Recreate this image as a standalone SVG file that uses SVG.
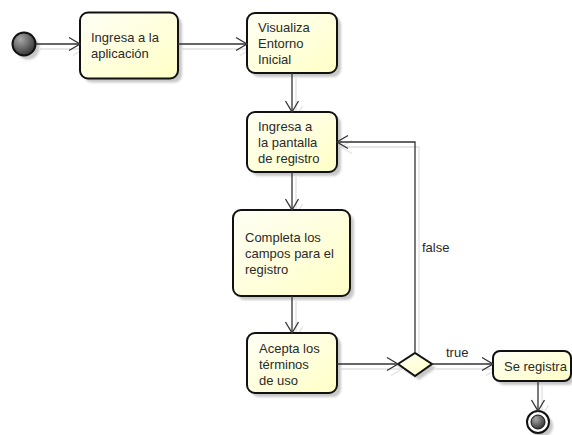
<svg xmlns="http://www.w3.org/2000/svg" width="572" height="435" viewBox="0 0 572 435">
  <defs>
    <linearGradient id="actFill" x1="0" y1="0" x2="1" y2="1">
      <stop offset="0" stop-color="#fffff6"/>
      <stop offset="1" stop-color="#ffffc6"/>
    </linearGradient>
    <radialGradient id="dotFill" cx="0.35" cy="0.3" r="0.8">
      <stop offset="0" stop-color="#a8a8a8"/>
      <stop offset="1" stop-color="#2a2a2a"/>
    </radialGradient>
    <filter id="soft" x="-20%" y="-20%" width="140%" height="140%">
      <feGaussianBlur stdDeviation="1.2"/>
    </filter>
    <marker id="arrow" markerUnits="userSpaceOnUse" markerWidth="14" markerHeight="16" viewBox="0 0 14 16" refX="12" refY="8" orient="auto">
      <path d="M1,1.5 L12,8 L1,14.5" fill="none" stroke="#333" stroke-width="1.3"/>
    </marker>
    <marker id="arrowShadow" markerUnits="userSpaceOnUse" markerWidth="14" markerHeight="16" viewBox="0 0 14 16" refX="12" refY="8" orient="auto">
      <path d="M1,1.5 L12,8 L1,14.5" fill="none" stroke="#e2e2e2" stroke-width="1.3"/>
    </marker>
  </defs>
  <style>
    .act { fill: url(#actFill); stroke: #111; stroke-width: 2; }
    .shade { fill: #c8c8c8; filter: url(#soft); }
    .flow { fill: none; stroke: #333; stroke-width: 1.3; marker-end: url(#arrow); }
    .flowShade { fill: none; stroke: #e0e0e0; stroke-width: 1.3; marker-end: url(#arrowShadow); }
    text { font-family: "Liberation Sans", Arial, sans-serif; font-size: 13px; fill: #2a2a2a; }
  </style>

  <!-- connector shadows -->
  <g id="connector-shadows" transform="translate(4,5)">
    <path class="flowShade" d="M36,44 H80"/>
    <path class="flowShade" d="M178,44 H247"/>
    <path class="flowShade" d="M292,73 V112"/>
    <path class="flowShade" d="M292,172 V210"/>
    <path class="flowShade" d="M292,296 V333"/>
    <path class="flowShade" d="M337,364 H398"/>
    <path class="flowShade" d="M415,353 V142 H337"/>
    <path class="flowShade" d="M432,364 H493"/>
    <path class="flowShade" d="M538,381 V411"/>
  </g>

  <!-- initial node -->
  <g id="start">
    <circle class="shade" cx="28" cy="48" r="11.5"/>
    <circle cx="24" cy="44" r="11.5" fill="url(#dotFill)" stroke="#111" stroke-width="2"/>
  </g>

  <g id="ingresa-app">
    <rect class="shade" x="84" y="16.5" width="98" height="66" rx="8"/>
    <rect class="act" x="80" y="12.5" width="98" height="66" rx="8"/>
    <text x="91" y="42">Ingresa a la</text>
    <text x="91" y="58">aplicación</text>
  </g>

  <g id="visualiza">
    <rect class="shade" x="251" y="17" width="90" height="60" rx="8"/>
    <rect class="act" x="247" y="13" width="90" height="60" rx="8"/>
    <text x="258" y="32">Visualiza</text>
    <text x="258" y="48">Entorno</text>
    <text x="258" y="64">Inicial</text>
  </g>

  <g id="pantalla-registro">
    <rect class="shade" x="251" y="116" width="90" height="60" rx="8"/>
    <rect class="act" x="247" y="112" width="90" height="60" rx="8"/>
    <text x="258" y="131">Ingresa a</text>
    <text x="258" y="147">la pantalla</text>
    <text x="258" y="163">de registro</text>
  </g>

  <g id="completa-campos">
    <rect class="shade" x="237" y="214" width="117" height="86" rx="8"/>
    <rect class="act" x="233" y="210" width="117" height="86" rx="8"/>
    <text x="245" y="242">Completa los</text>
    <text x="245" y="258">campos para el</text>
    <text x="245" y="274">registro</text>
  </g>

  <g id="acepta-terminos">
    <rect class="shade" x="251" y="337" width="90" height="60" rx="8"/>
    <rect class="act" x="247" y="333" width="90" height="60" rx="8"/>
    <text x="259" y="353">Acepta los</text>
    <text x="259" y="369">términos</text>
    <text x="259" y="385">de uso</text>
  </g>

  <g id="decision">
    <polygon class="shade" points="402,368 419,357 436,368 419,380"/>
    <polygon points="398,364 415,353 432,364 415,376" fill="url(#actFill)" stroke="#111" stroke-width="2"/>
  </g>

  <g id="se-registra">
    <rect class="shade" x="497" y="355" width="78" height="30" rx="7"/>
    <rect class="act" x="493" y="351" width="78" height="30" rx="7"/>
    <text x="504" y="371">Se registra</text>
  </g>

  <!-- final node -->
  <g id="end">
    <circle class="shade" cx="542" cy="426" r="11"/>
    <circle cx="538" cy="422" r="11" fill="#fff" stroke="#111" stroke-width="2"/>
    <circle cx="538" cy="422" r="7" fill="url(#dotFill)" stroke="#111" stroke-width="1"/>
  </g>

  <!-- control flows -->
  <g id="connectors">
    <path class="flow" d="M36,44 H80"/>
    <path class="flow" d="M178,44 H247"/>
    <path class="flow" d="M292,73 V112"/>
    <path class="flow" d="M292,172 V210"/>
    <path class="flow" d="M292,296 V333"/>
    <path class="flow" d="M337,364 H398"/>
    <path class="flow" d="M415,353 V142 H337"/>
    <path class="flow" d="M432,364 H493"/>
    <path class="flow" d="M538,381 V411"/>
    <text x="422" y="252">false</text>
    <text x="446" y="357">true</text>
  </g>
</svg>
